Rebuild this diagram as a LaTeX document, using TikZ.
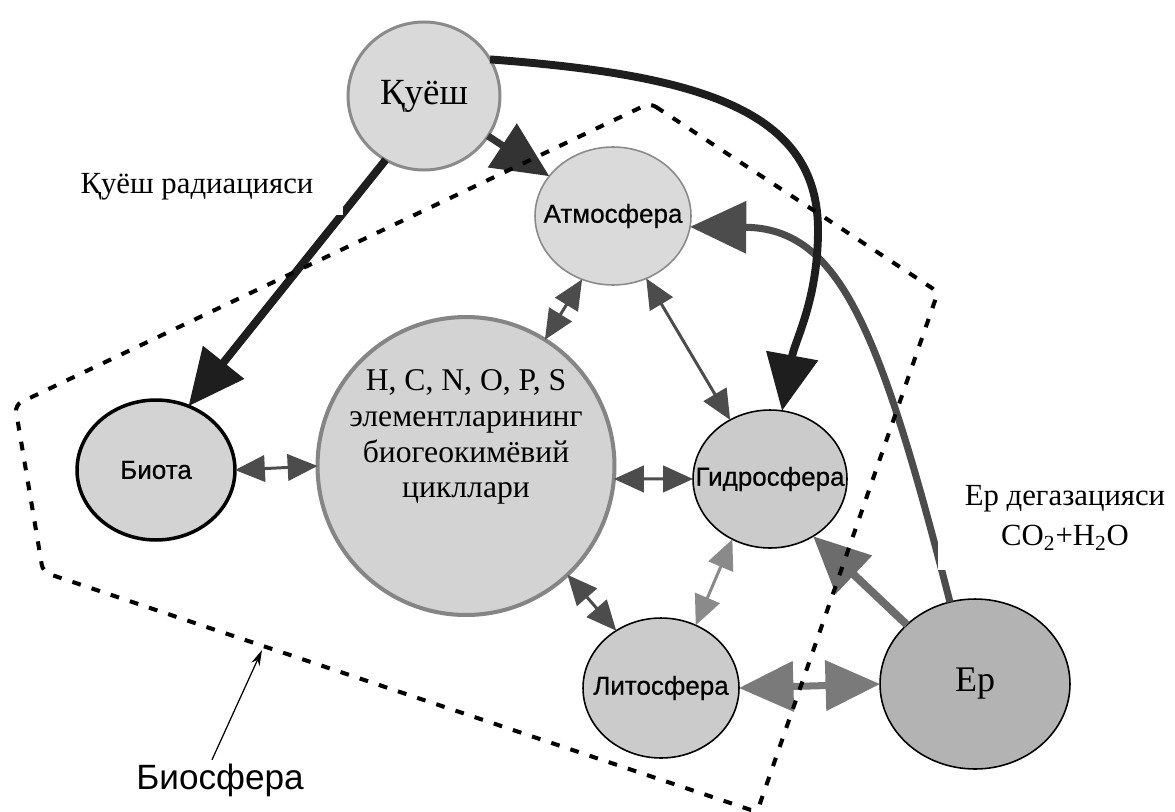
\documentclass[tikz,border=0pt]{standalone}
\usepackage{fontspec}
\setmainfont{Liberation Serif}
\setsansfont{Liberation Sans}
\newfontfamily\nodesans[FakeBold=0.6]{Liberation Sans}
\usetikzlibrary{shapes.geometric,arrows.meta}
\definecolor{sunfill}{HTML}{D9D9D9}
\definecolor{sunline}{HTML}{8A8A8A}
\definecolor{atmfill}{HTML}{DADADA}
\definecolor{bigfill}{HTML}{D3D3D3}
\definecolor{bigline}{HTML}{858585}
\definecolor{sphfill}{HTML}{CBCBCB}
\definecolor{erfill}{HTML}{B3B3B3}
\definecolor{arrblack}{HTML}{1E1E1E}
\definecolor{arrdark}{HTML}{333333}
\definecolor{arrgray}{HTML}{4C4C4C}
\definecolor{arrmid}{HTML}{6C6C6C}
\definecolor{arrlight}{HTML}{7A7A7A}
\definecolor{arrpale}{HTML}{8A8A8A}
\newcommand{\zw}[1]{\makebox[0pt]{#1}}
\begin{document}
\begin{tikzpicture}[x=0.02cm,y=-0.02cm,
  sph/.style={ellipse,inner sep=0pt,outer sep=0pt,
    font=\nodesans\fontsize{14.8}{16}\selectfont},
  sertext/.style={font=\rmfamily\fontsize{17.5}{22.7}\selectfont},
  bigtip/.style={-{Triangle[length=32pt,width=29pt]}},
  blackarr/.style={line width=4.5pt,draw=arrblack,bigtip},
  darkarr/.style={line width=4pt,draw=arrdark,bigtip},
  grayarr/.style={line width=4.5pt,draw=arrmid,bigtip},
  curvearr/.style={line width=4pt,draw=arrgray,bigtip},
  graydbl/.style={line width=4pt,draw=arrlight,
    {Triangle[length=31pt,width=28pt]}-{Triangle[length=31pt,width=28pt]}},
  smalldbl/.style={line width=1.7pt,draw=arrgray,
    {Triangle[length=17pt,width=15pt]}-{Triangle[length=17pt,width=15pt]}},
  lightdbl/.style={line width=1.7pt,draw=arrpale,
    {Triangle[length=17pt,width=15pt]}-{Triangle[length=17pt,width=15pt]}},
  biosph/.style={line width=2.3pt,draw=black,dash pattern=on 5pt off 6.5pt,rounded corners=4pt},
  whitelab/.style={sertext,fill=white},
]
\useasboundingbox (0,0) rectangle (1175,811);

% spheres
\node[sph,minimum width=3.04cm,minimum height=2.96cm,fill=sunfill,draw=sunline,line width=1.7pt,
  font=\rmfamily\fontsize{21}{24}\selectfont] (sun) at (424,96) {\zw{Қуёш}};
\node[sph,minimum width=3.12cm,minimum height=2.76cm,fill=atmfill,draw=sunline,line width=0.9pt] (atm) at (613,216) {\zw{Атмосфера}};
\node[sph,minimum width=3.16cm,minimum height=2.8cm,fill=bigfill,draw=black,line width=2pt] (biota) at (156,470) {\zw{Биота}};
\node[sph,minimum width=5.94cm,minimum height=5.96cm,fill=bigfill,draw=bigline,line width=2.3pt,
  font=\rmfamily\fontsize{18}{20.4}\selectfont] (big) at (466,466)
  {\zw{\raisebox{0pt}[1.44cm][2.30cm]{\begin{tabular}{@{}c@{}}H, C, N, O, P, S\\элементларининг\\биогеокимёвий\\цикллари\end{tabular}}}};
\node[sph,minimum width=3.08cm,minimum height=2.76cm,fill=sphfill,draw=black,line width=0.9pt] (hyd) at (770,479) {\zw{Гидросфера}};
\node[sph,minimum width=3.12cm,minimum height=2.8cm,fill=sphfill,draw=black,line width=0.9pt] (lit) at (661,688) {\zw{Литосфера}};
\node[sph,minimum width=3.8cm,minimum height=3.4cm,fill=erfill,draw=black,line width=0.9pt,
  font=\rmfamily\fontsize{20.5}{24}\selectfont] (er) at (975,684) {\zw{Ер}};

% connectors
\draw[curvearr] (er.107) .. controls (880,330) and (840,228) .. (atm.-8);
\draw[blackarr] (sun.29) .. controls (700,75) and (818,110) .. (818,230)
  .. controls (818,300) and (795,340) .. (hyd.80);
\draw[blackarr] (sun.-121) -- (biota.63);
\draw[darkarr] (sun.-32) -- (atm.148);
\draw[grayarr] (er.139) -- (hyd.-53);
\draw[graydbl] (lit.east) -- (er.west);
\draw[smalldbl] (biota.east) -- (big.west);
\draw[smalldbl] (big.-5) -- (hyd.west);
\draw[smalldbl] (big.58) -- (atm.-116);
\draw[smalldbl] (atm.-62) -- (hyd.124);
\draw[smalldbl] (big.-47) -- (lit.128);
\draw[lightdbl] (hyd.-122) -- (lit.61);

% biosphere boundary
\draw[biosph] (650,103) -- (938,292) -- (757,812) -- (43,572) -- (15,405) -- cycle;
\coordinate (bioedge) at (262,650);

% labels
\node[whitelab,anchor=base,inner xsep=0.6cm,inner ysep=0.3cm] (radlab) at (197,193) {Қуёш радиацияси};
\node[whitelab,align=center,inner xsep=0.54cm,inner ysep=0.4cm] (degas) at (1065,518)
  {Ер дегазацияси\\CO\textsubscript{2}+H\textsubscript{2}O};
\node[font=\sffamily\fontsize{20}{24}\selectfont,inner sep=2pt] (biolab) at (220,780) {Биосфера};
\draw[line width=0.7pt,-{Stealth[length=9pt,width=5pt]}] ([xshift=-0.16cm]biolab.north) -- (bioedge);
\end{tikzpicture}
\end{document}
